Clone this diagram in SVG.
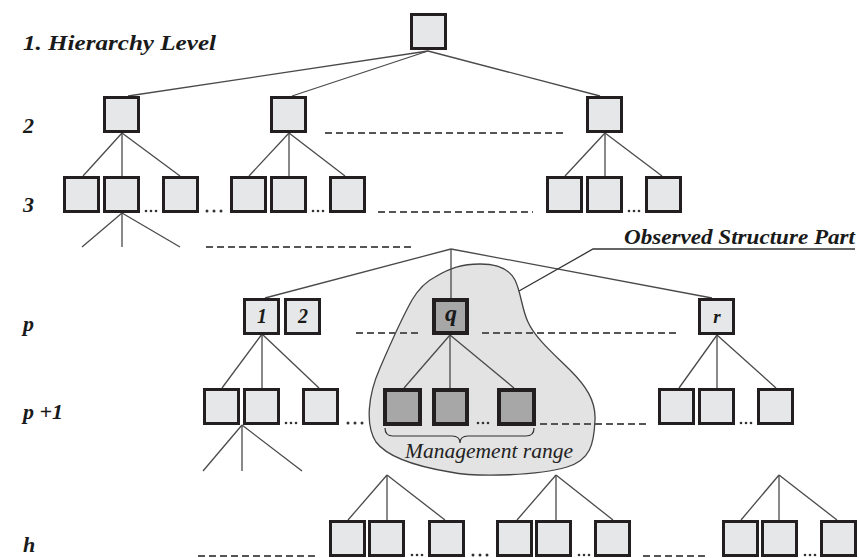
<svg xmlns="http://www.w3.org/2000/svg" width="859" height="558" viewBox="0 0 859 558">
<style>
.n rect{fill:#e6e7e8;stroke:#231f20;stroke-width:3}
.q rect{fill:#a7a7a7;stroke:#231f20;stroke-width:4}
.c line,.c polyline{stroke:#4a4a4a;stroke-width:1.3;fill:none}
.d line{stroke:#555;stroke-width:2;stroke-dasharray:7 4}
.dots circle{fill:#333}
.lbl{font-family:"Liberation Serif","Times New Roman",serif;font-weight:bold;font-style:italic;font-size:22px;fill:#1a1a1a}
.nl{font-family:"Liberation Serif","Times New Roman",serif;font-weight:bold;font-style:italic;fill:#1a1a1a;text-anchor:middle}
</style>
<rect width="859" height="558" fill="#fff"/>
<g id="observed-part">
<path d="M 480 264 C 500 264 510 270 515 280 C 521 292 522 310 528 322 C 535 338 555 355 570 370 C 585 385 596 400 595 420 C 594 445 590 460 567 467 C 540 475 480 478 450 472 C 420 467 388 458 376 442 C 365 425 368 395 380 368 C 392 340 402 318 412 300 C 418 290 425 282 435 277 C 450 268 462 264 480 264 Z" fill="#e3e3e3" stroke="#444" stroke-width="1.3"/>
</g>
<g id="connectors" class="c">
<line x1="428" y1="51" x2="128" y2="96"/>
<line x1="428" y1="51" x2="292" y2="96"/>
<line x1="428" y1="51" x2="600" y2="96"/>
<line x1="122" y1="133" x2="83" y2="176"/>
<line x1="122" y1="133" x2="122" y2="176"/>
<line x1="122" y1="133" x2="180" y2="176"/>
<line x1="289" y1="133" x2="249" y2="176"/>
<line x1="289" y1="133" x2="289" y2="176"/>
<line x1="289" y1="133" x2="345" y2="176"/>
<line x1="605" y1="133" x2="565" y2="176"/>
<line x1="605" y1="133" x2="605" y2="176"/>
<line x1="605" y1="133" x2="662" y2="176"/>
<line x1="122" y1="213" x2="82" y2="247"/>
<line x1="122" y1="213" x2="122" y2="247"/>
<line x1="122" y1="213" x2="180" y2="247"/>
<line x1="451" y1="249" x2="265" y2="298"/>
<line x1="451" y1="249" x2="451" y2="298"/>
<line x1="451" y1="249" x2="712" y2="298"/>
<line x1="262" y1="334" x2="222" y2="388"/>
<line x1="262" y1="334" x2="262" y2="388"/>
<line x1="262" y1="334" x2="319" y2="388"/>
<line x1="450" y1="335" x2="404" y2="388"/>
<line x1="450" y1="335" x2="450" y2="388"/>
<line x1="450" y1="335" x2="514" y2="388"/>
<line x1="717" y1="335" x2="679" y2="388"/>
<line x1="717" y1="335" x2="717" y2="388"/>
<line x1="717" y1="335" x2="776" y2="388"/>
<line x1="242" y1="425" x2="203" y2="471"/>
<line x1="242" y1="425" x2="242" y2="471"/>
<line x1="242" y1="425" x2="302" y2="471"/>
<line x1="387" y1="475" x2="348" y2="520"/>
<line x1="387" y1="475" x2="387" y2="520"/>
<line x1="387" y1="475" x2="445" y2="520"/>
<line x1="556" y1="475" x2="517" y2="520"/>
<line x1="556" y1="475" x2="556" y2="520"/>
<line x1="556" y1="475" x2="613" y2="520"/>
<line x1="779" y1="475" x2="741" y2="520"/>
<line x1="779" y1="475" x2="779" y2="520"/>
<line x1="779" y1="475" x2="837" y2="520"/>
<polyline points="519,291 593,249 855,249" style="stroke:#333"/>
<path d="M 385 428 Q 385 436 393 436 L 452 436 Q 460 436 460 443 Q 460 436 468 436 L 526 436 Q 534 436 534 428" fill="none" stroke="#333" stroke-width="1.2"/>
</g>
<g id="dashes" class="d">
<line x1="325" y1="133" x2="563" y2="133"/>
<line x1="378" y1="212" x2="533" y2="212"/>
<line x1="206" y1="247" x2="413" y2="247"/>
<line x1="356" y1="333" x2="420" y2="333"/>
<line x1="482" y1="333" x2="680" y2="333"/>
<line x1="540" y1="424" x2="647" y2="424"/>
<line x1="198" y1="556" x2="315" y2="556"/>
<line x1="643" y1="556" x2="707" y2="556"/>
</g>
<g id="ellipses" class="dots">
<circle cx="146" cy="211" r="1.3"/><circle cx="151" cy="211" r="1.3"/><circle cx="156" cy="211" r="1.3"/>
<circle cx="207" cy="211" r="1.5"/><circle cx="214" cy="211" r="1.5"/><circle cx="221" cy="211" r="1.5"/>
<circle cx="313" cy="211" r="1.3"/><circle cx="318" cy="211" r="1.3"/><circle cx="323" cy="211" r="1.3"/>
<circle cx="629" cy="211" r="1.3"/><circle cx="634" cy="211" r="1.3"/><circle cx="639" cy="211" r="1.3"/>
<circle cx="286" cy="423" r="1.3"/><circle cx="291" cy="423" r="1.3"/><circle cx="296" cy="423" r="1.3"/>
<circle cx="348" cy="423" r="1.5"/><circle cx="355" cy="423" r="1.5"/><circle cx="362" cy="423" r="1.5"/>
<circle cx="478" cy="423" r="1.3"/><circle cx="483" cy="423" r="1.3"/><circle cx="488" cy="423" r="1.3"/>
<circle cx="741" cy="423" r="1.3"/><circle cx="746" cy="423" r="1.3"/><circle cx="751" cy="423" r="1.3"/>
<circle cx="412" cy="555" r="1.3"/><circle cx="417" cy="555" r="1.3"/><circle cx="422" cy="555" r="1.3"/>
<circle cx="473" cy="555" r="1.5"/><circle cx="480" cy="555" r="1.5"/><circle cx="487" cy="555" r="1.5"/>
<circle cx="579" cy="555" r="1.3"/><circle cx="584" cy="555" r="1.3"/><circle cx="589" cy="555" r="1.3"/>
<circle cx="805" cy="555" r="1.3"/><circle cx="810" cy="555" r="1.3"/><circle cx="815" cy="555" r="1.3"/>
</g>
<g id="level1-root" class="n"><rect x="411.5" y="14.5" width="34" height="34"/></g>
<g id="l2-a" class="n"><rect x="104.5" y="97.5" width="34" height="34"/></g>
<g id="l2-b" class="n"><rect x="271.5" y="97.5" width="34" height="34"/></g>
<g id="l2-c" class="n"><rect x="587.5" y="97.5" width="34" height="34"/></g>
<g id="l3-a1" class="n"><rect x="64.5" y="177.5" width="34" height="34"/></g>
<g id="l3-a2" class="n"><rect x="104.5" y="177.5" width="34" height="34"/></g>
<g id="l3-a3" class="n"><rect x="163.5" y="177.5" width="34" height="34"/></g>
<g id="l3-b1" class="n"><rect x="231.5" y="177.5" width="34" height="34"/></g>
<g id="l3-b2" class="n"><rect x="271.5" y="177.5" width="34" height="34"/></g>
<g id="l3-b3" class="n"><rect x="330.5" y="177.5" width="34" height="34"/></g>
<g id="l3-c1" class="n"><rect x="547.5" y="177.5" width="34" height="34"/></g>
<g id="l3-c2" class="n"><rect x="587.5" y="177.5" width="34" height="34"/></g>
<g id="l3-c3" class="n"><rect x="646.5" y="177.5" width="34" height="34"/></g>
<g id="p-1" class="n"><rect x="244.5" y="299.5" width="34" height="34"/><text class="nl" x="262" y="323" font-size="20">1</text></g>
<g id="p-2" class="n"><rect x="285.5" y="299.5" width="34" height="34"/><text class="nl" x="303" y="323" font-size="20">2</text></g>
<g id="p-q" class="q"><rect x="434" y="300" width="33" height="33"/><text class="nl" x="451" y="321" font-size="24">q</text></g>
<g id="p-r" class="n"><rect x="699.5" y="299.5" width="34" height="34"/><text class="nl" x="717" y="323" font-size="19">r</text></g>
<g id="p1-a1" class="n"><rect x="204.5" y="389.5" width="34" height="34"/></g>
<g id="p1-a2" class="n"><rect x="244.5" y="389.5" width="34" height="34"/></g>
<g id="p1-a3" class="n"><rect x="303.5" y="389.5" width="34" height="34"/></g>
<g id="p1-q1" class="q"><rect x="385" y="390" width="35" height="34"/></g>
<g id="p1-q2" class="q"><rect x="434" y="390" width="33" height="34"/></g>
<g id="p1-q3" class="q"><rect x="499" y="390" width="35" height="34"/></g>
<g id="p1-r1" class="n"><rect x="659.5" y="389.5" width="34" height="34"/></g>
<g id="p1-r2" class="n"><rect x="699.5" y="389.5" width="34" height="34"/></g>
<g id="p1-r3" class="n"><rect x="758.5" y="389.5" width="34" height="34"/></g>
<g id="h-a1" class="n"><rect x="330.5" y="521.5" width="34" height="34"/></g>
<g id="h-a2" class="n"><rect x="369.5" y="521.5" width="34" height="34"/></g>
<g id="h-a3" class="n"><rect x="429.5" y="521.5" width="34" height="34"/></g>
<g id="h-b1" class="n"><rect x="497.5" y="521.5" width="34" height="34"/></g>
<g id="h-b2" class="n"><rect x="536.5" y="521.5" width="34" height="34"/></g>
<g id="h-b3" class="n"><rect x="595.5" y="521.5" width="34" height="34"/></g>
<g id="h-c1" class="n"><rect x="723.5" y="521.5" width="34" height="34"/></g>
<g id="h-c2" class="n"><rect x="762.5" y="521.5" width="34" height="34"/></g>
<g id="h-c3" class="n"><rect x="821.5" y="521.5" width="34" height="34"/></g>
<g id="labels">
<text class="lbl" x="23" y="50" textLength="193" lengthAdjust="spacingAndGlyphs">1.  Hierarchy Level</text>
<text class="lbl" x="23" y="133">2</text>
<text class="lbl" x="23" y="212">3</text>
<text class="lbl" x="23" y="331">p</text>
<text class="lbl" x="23" y="419">p +1</text>
<text class="lbl" x="23" y="552">h</text>
<text class="lbl" x="624" y="244" font-size="21" textLength="231" lengthAdjust="spacingAndGlyphs">Observed Structure Part</text>
<text x="405" y="458" font-family="'Liberation Serif','Times New Roman',serif" font-style="italic" font-size="20" fill="#222" textLength="168" lengthAdjust="spacingAndGlyphs">Management range</text>
</g>
</svg>
